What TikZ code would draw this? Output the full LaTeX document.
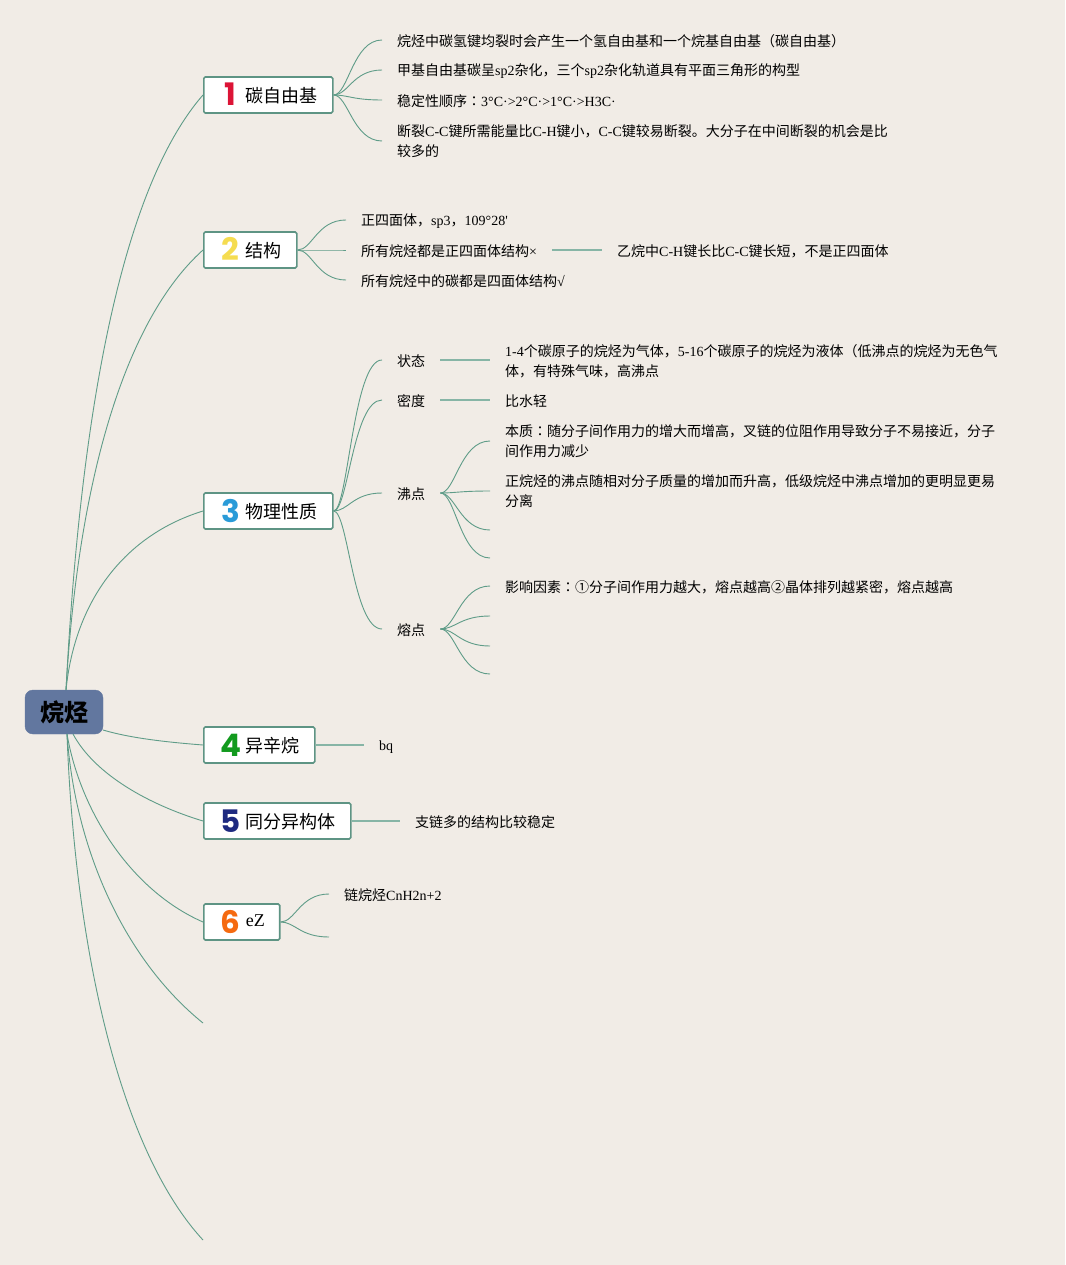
\documentclass[tikz,border=0pt]{standalone}
\usepackage{fontspec}
\usetikzlibrary{calc}
\setmainfont{Noto Sans CJK SC}
\newfontfamily\latinfont{Liberation Serif}
\newfontfamily\tcfont{Noto Sans CJK TC}
\newfontfamily\digitfont{Poppins}[BoldFont=* Bold]
\newcommand{\lat}[1]{{\latinfont #1}}
\newcommand{\kolon}{{\tcfont ：}}
\newcommand{\digit}[2]{\hspace{4pt}\makebox[16pt][c]{\raisebox{-3.5pt}{\fontsize{31}{31}\digitfont\bfseries\textcolor{#1}{#2}}}\hspace{7pt}}
\definecolor{pagebg}{HTML}{F1ECE6}
\definecolor{linkcol}{HTML}{5F9C88}
\definecolor{boxcol}{HTML}{5E9484}
\definecolor{rootcol}{HTML}{62779F}
\definecolor{numa}{HTML}{DC1436}
\definecolor{numb}{HTML}{F5DC50}
\definecolor{numc}{HTML}{2A9BD8}
\definecolor{numd}{HTML}{129A1E}
\definecolor{nume}{HTML}{1E2A80}
\definecolor{numf}{HTML}{F56A10}

\begin{document}
\begin{tikzpicture}[
    x=1pt, y=-1pt,
    rootbox/.style={draw=rootcol, fill=rootcol, rounded corners=8pt, minimum width=78pt, minimum height=44pt, inner sep=0pt, text height=18pt, text depth=0pt, font=\fontsize{24}{24}\selectfont\bfseries},
    topic/.style={draw=boxcol, line width=1.6pt, fill=white, rounded corners=1.5pt, anchor=west, minimum height=36pt, inner ysep=0pt, inner xsep=15pt, text height=15.5pt, text depth=0.5pt, font=\fontsize{18}{20}\selectfont},
    leaf/.style={anchor=west, inner xsep=15pt, inner ysep=0pt, align=left, font=\fontsize{14}{20}\selectfont, execute at begin node={\rule{0pt}{14pt}}, execute at end node={\rule[-1.4pt]{0pt}{0.1pt}}},
    link/.style={linkcol, line width=0.9pt},
    straight/.style={linkcol!75, line width=1.3pt},
    fan/.style={to path={.. controls ($(\tikztostart)!0.3!(\tikztostart -| \tikztotarget)$) and ($(\tikztotarget)!0.6!(\tikztotarget -| \tikztostart)$) .. (\tikztotarget)}},
]

\fill[pagebg] (0,0) rectangle (1065,1265);

% Root
\node[rootbox] (root) at (64,712) {烷烃};
\coordinate (rootn) at (66,690);
\coordinate (rootb) at (67,734);
\coordinate (rootr) at (103,730);
\coordinate (roots) at (73,734);

% Topics
\node[topic] (t1) at (203,95) {\digit{numa}{1}碳自由基};
\node[topic] (t2) at (203,250) {\digit{numb}{2}结构};
\node[topic] (t3) at (203,511) {\digit{numc}{3}物理性质};
\node[topic] (t4) at (203,745) {\digit{numd}{4}异辛烷};
\node[topic] (t5) at (203,821) {\digit{nume}{5}同分异构体};
\node[topic] (t6) at (203,922) {\digit{numf}{6}\raisebox{3.5pt}{\lat{eZ}}};
\coordinate (t7) at (203,1023);
\coordinate (t8) at (203,1240);

% Root to topics
\draw[link] (rootn) .. controls (80,420) and (120,190) .. (t1.west);
\draw[link] (rootn) .. controls (78,480) and (125,320) .. (t2.west);
\draw[link] (rootn) .. controls (75,600) and (125,535) .. (t3.west);
\draw[link] (rootr) .. controls (130,738) and (165,742) .. (t4.west);
\draw[link] (roots) .. controls (95,775) and (150,805) .. (t5.west);
\draw[link] (rootb) .. controls (80,810) and (130,890) .. (t6.west);
\draw[link] (rootb) .. controls (75,850) and (125,960) .. (t7);
\draw[link] (rootb) .. controls (75,950) and (120,1150) .. (t8);

% Carbon radical
\node[leaf] (a1) at (382,40) {烷烃中碳氢键均裂时会产生一个氢自由基和一个烷基自由基（碳自由基）};
\node[leaf] (a2) at (382,70) {甲基自由基碳呈\lat{sp2}杂化，三个\lat{sp2}杂化轨道具有平面三角形的构型};
\node[leaf] (a3) at (382,100) {稳定性顺序\kolon\lat{3°C·>2°C·>1°C·>H3C·}};
\node[leaf] (a4) at (382,141) {断裂\lat{C-C}键所需能量比\lat{C-H}键小，\lat{C-C}键较易断裂。大分子在中间断裂的机会是比\\较多的};
\foreach \i in {1,...,4}
    \draw[link] (t1.east) to[fan] (a\i.west);

% Structure
\node[leaf] (b1) at (346,220) {正四面体，\lat{sp3}，\lat{109°28'}};
\node[leaf] (b2) at (346,250) {所有烷烃都是正四面体结构\lat{×}};
\node[leaf] (b3) at (346,280) {所有烷烃中的碳都是四面体结构\lat{√}};
\node[leaf] (b4) at (602,250) {乙烷中\lat{C-H}键长比\lat{C-C}键长短，不是正四面体};
\foreach \i in {1,...,3}
    \draw[link] (t2.east) to[fan] (b\i.west);
\draw[straight] (b2.east) -- (b4.west);

% Physical properties
\node[leaf] (c1) at (382,360) {状态};
\node[leaf] (c2) at (382,400) {密度};
\node[leaf] (c3) at (382,493) {沸点};
\node[leaf] (c4) at (382,629) {熔点};
\foreach \i in {1,...,4}
    \draw[link] (t3.east) to[fan] (c\i.west);

\node[leaf] (d1) at (490,361) {\lat{1-4}个碳原子的烷烃为气体，\lat{5-16}个碳原子的烷烃为液体（低沸点的烷烃为无色气\\体，有特殊气味，高沸点};
\node[leaf] (d2) at (490,400) {比水轻};
\draw[straight] (c1.east) -- (d1.west |- c1.east);
\draw[straight] (c2.east) -- (d2.west);

\node[leaf] (e1) at (490,441) {本质\kolon 随分子间作用力的增大而增高，叉链的位阻作用导致分子不易接近，分子\\间作用力减少};
\node[leaf] (e2) at (490,491) {正烷烃的沸点随相对分子质量的增加而升高，低级烷烃中沸点增加的更明显更易\\分离};
\coordinate (e3) at (490,530);
\coordinate (e4) at (490,558);
\draw[link] (c3.east) to[fan] (e1.west);
\draw[link] (c3.east) to[fan] (e2.west);
\draw[link] (c3.east) to[fan] (e3);
\draw[link] (c3.east) to[fan] (e4);

\node[leaf] (f1) at (490,586) {影响因素\kolon ①分子间作用力越大，熔点越高②晶体排列越紧密，熔点越高};
\coordinate (f2) at (490,616);
\coordinate (f3) at (490,646);
\coordinate (f4) at (490,674);
\draw[link] (c4.east) to[fan] (f1.west);
\draw[link] (c4.east) to[fan] (f2);
\draw[link] (c4.east) to[fan] (f3);
\draw[link] (c4.east) to[fan] (f4);

% Remaining topics
\node[leaf] (g1) at (364,745) {\lat{bq}};
\draw[straight] (t4.east) -- (g1.west);
\node[leaf] (h1) at (400,821) {支链多的结构比较稳定};
\draw[straight] (t5.east) -- (h1.west);
\node[leaf] (k1) at (329,894) {链烷烃\lat{CnH2n+2}};
\coordinate (k2) at (329,937);
\draw[link] (t6.east) to[fan] (k1.west);
\draw[link] (t6.east) to[fan] (k2);

\end{tikzpicture}
\end{document}
